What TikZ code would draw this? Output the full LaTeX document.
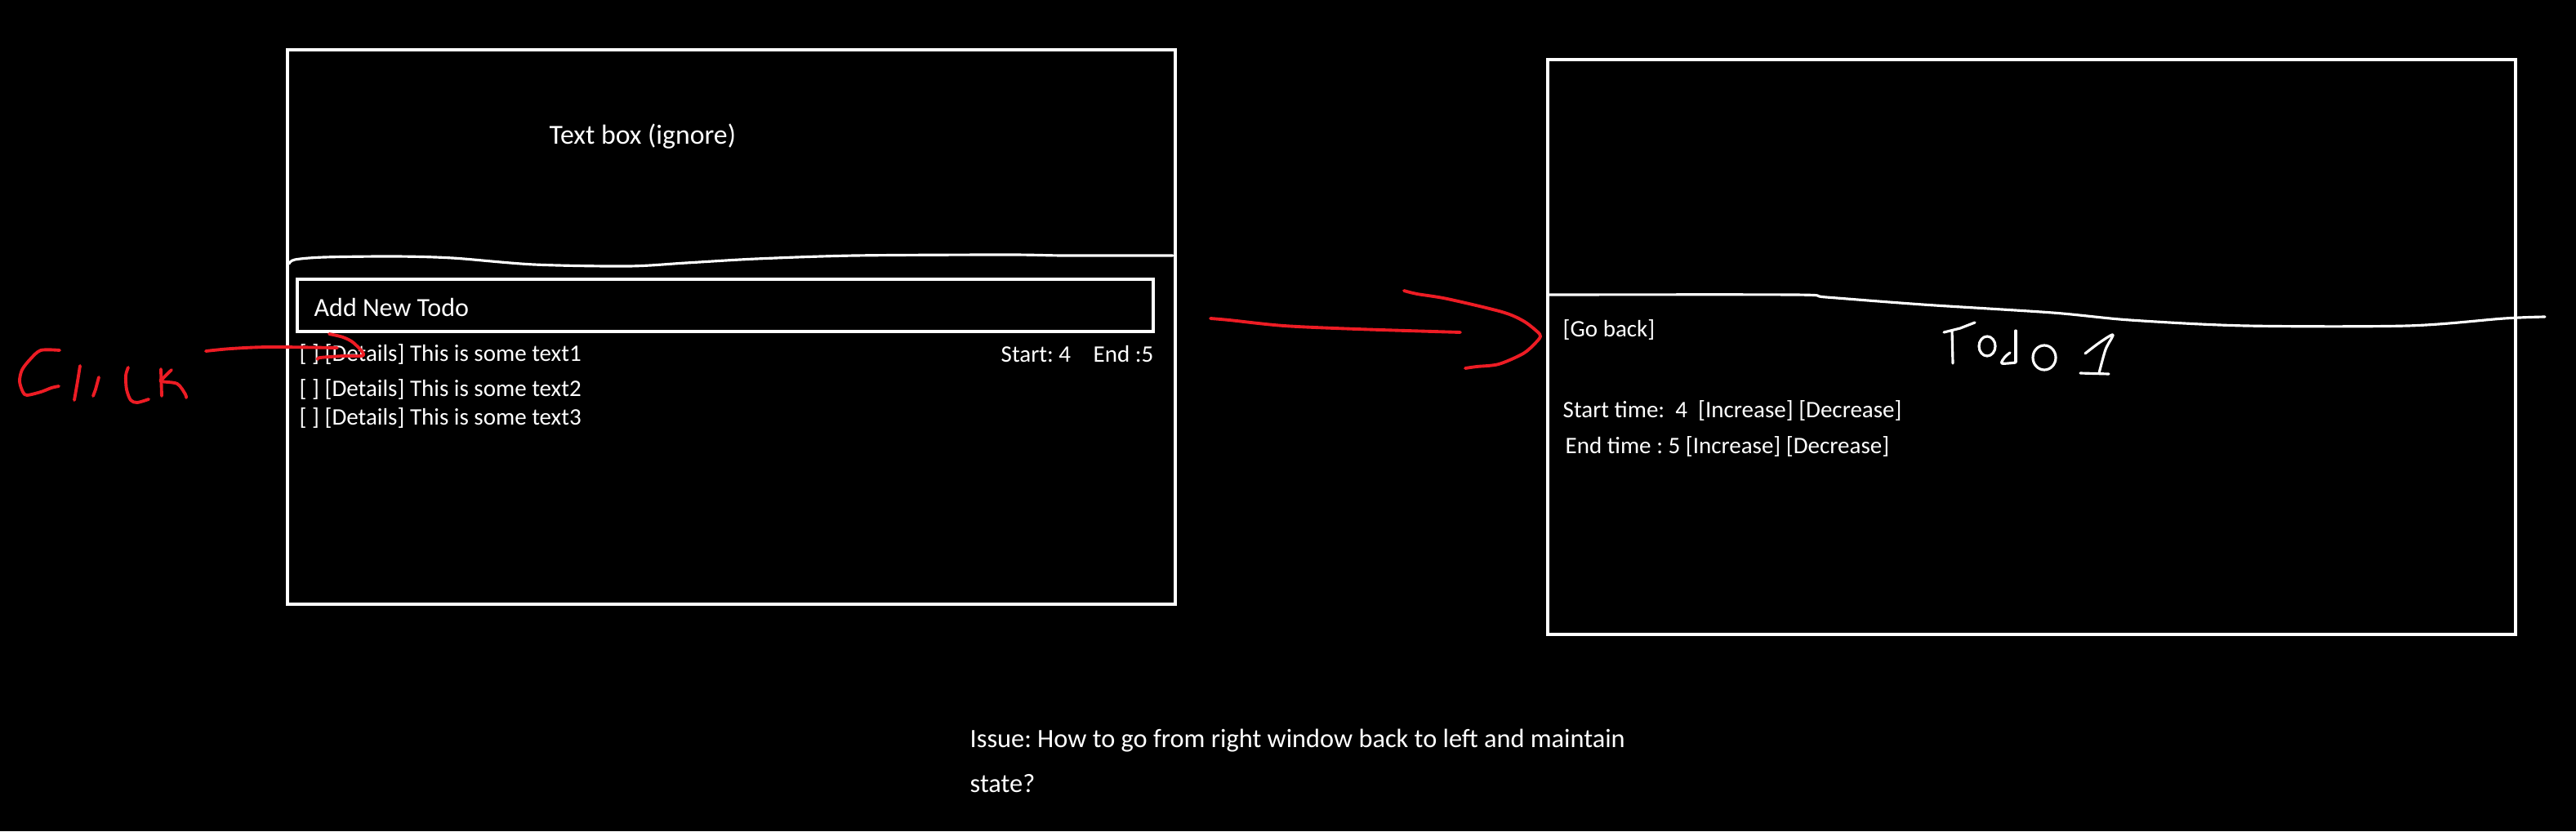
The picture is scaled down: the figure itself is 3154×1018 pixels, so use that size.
\documentclass[tikz,border=0pt]{standalone}
\usepackage{fontspec}
\setmainfont{Carlito}
\frenchspacing
\definecolor{penred}{RGB}{237,28,36}
\newcommand{\listfont}{\fontsize{8.25}{10}\selectfont}
\newcommand{\headfont}{\fontsize{9.1}{11}\selectfont}
\begin{document}
\begin{tikzpicture}[x=0.01cm, y=0.01cm]
\tikzstyle{every node}+=[inner sep=0pt, text=white, anchor=west, font=\listfont]
\tikzstyle{frame}=[white, line width=1.3pt]
\tikzstyle{sketch}=[white, line width=0.9pt, line cap=round, line join=round]
\tikzstyle{pen}=[penred, line width=1.1pt, line cap=round, line join=round]
\fill [black] (0,0) rectangle (3154,-1018);
\useasboundingbox (0,0) rectangle (3154,-1018);
% left window
\draw [frame] (352,-61) rectangle (1439,-740);
\draw [sketch] plot [smooth] coordinates {(354,-323) (361,-318) (397,-315) (483,-314) (554,-316) (654,-324) (769,-326) (840,-322) (926,-317) (1047,-313) (1233,-312) (1304,-313) (1436,-313)};
\node (textbox) at (672,-167) [font=\fontsize{9.6}{11}\selectfont] {Text box (ignore)};
\draw [frame] (364,-342) rectangle (1412,-406);
\node (addnew) at (384,-376) [font=\headfont] {Add New Todo};
\node (item1) at (366,-434) {[ ] [Details] This is some text1};
\node (item2) at (366,-477) {[ ] [Details] This is some text2};
\node (item3) at (366,-512) {[ ] [Details] This is some text3};
\node (start) at (1225,-434) {Start: 4};
\node (end) at (1338,-434) {End :5};
% right window
\draw [frame] (1895,-73) rectangle (3080,-777);
\draw [sketch] plot [smooth] coordinates {(1895,-361) (2196,-361) (2236,-364) (2354,-373) (2513,-383) (2608,-392) (2750,-399) (2948,-399) (3066,-390) (3116,-388)};
\node (goback) at (1913,-404) {[Go back]};
\node (starttime) at (1913,-503) {Start time:\ \ 4\ \ [Increase] [Decrease]};
\node (endtime) at (1916,-547) {End time : 5 [Increase] [Decrease]};
% Todo 1
\draw [sketch] (2380,-407) -- (2400,-402) -- (2418,-395);
\draw [sketch] (2390,-405) -- (2391,-445);
\draw [sketch] (2433,-424) ellipse (10 and 12);
\draw [sketch] (2468,-405) -- (2468,-443);
\draw [sketch] plot [smooth] coordinates {(2468,-444) (2451,-445) (2455,-437) (2461,-432)};
\draw [sketch] (2503,-438) ellipse (14 and 15);
\draw [sketch] plot [smooth] coordinates {(2553,-433) (2570,-420) (2587,-410) (2578,-428) (2570,-457)};
\draw [sketch] (2547,-457) -- (2582,-458);
% Click
\draw [pen] plot [smooth] coordinates {(73,-429) (50,-429) (37,-440) (27,-453) (24,-467) (28,-480) (33,-484) (50,-480) (63,-475) (72,-473)};
\draw [pen] (98,-448) -- (95,-467) -- (91,-490);
\draw [pen] (121,-462) -- (117,-477) -- (114,-485);
\draw [pen] plot [smooth] coordinates {(157,-450) (154,-460) (155,-477) (160,-490) (168,-493) (182,-489)};
\draw [pen] (197,-452) -- (198,-485);
\draw [pen] plot [smooth] coordinates {(210,-453) (200,-463) (197,-467) (217,-470) (227,-483) (228,-487)};
\draw [pen] plot [smooth] coordinates {(252,-430) (283,-427) (330,-425) (413,-426)};
\draw [pen] plot [smooth] coordinates {(403,-409) (420,-413) (433,-420) (445,-435) (420,-436) (392,-438) (389,-440)};
% arrow to the right window
\draw [pen] plot [smooth] coordinates {(1482,-390) (1505,-392) (1572,-399) (1661,-403) (1788,-407)};
\draw [pen] plot [smooth] coordinates {(1719,-356) (1735,-360) (1772,-366) (1839,-382) (1865,-393) (1882,-406) (1886,-412) (1880,-420) (1865,-433) (1835,-446) (1808,-449) (1794,-451)};
% issue
\node (issue) at (1187,-907) [font=\fontsize{9.2}{11}\selectfont] {Issue: How to go from right window back to left and maintain};
\node (issue2) at (1187,-960) [font=\fontsize{9.2}{11}\selectfont] {state?};
\end{tikzpicture}
\end{document}
